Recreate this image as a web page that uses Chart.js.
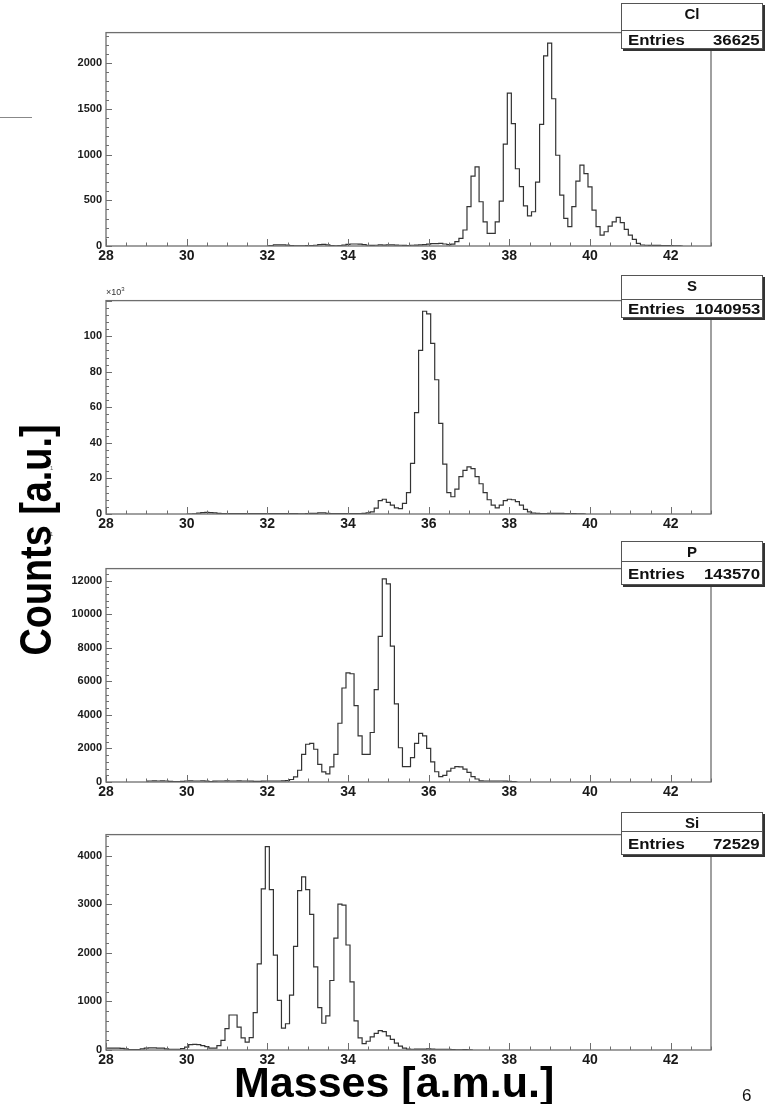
<!DOCTYPE html>
<html>
<head>
<meta charset="utf-8">
<script src="https://cdn.jsdelivr.net/npm/chart.js@4.4.1/dist/chart.umd.min.js"></script>
<style>
  body { margin: 0; background: #fff; width: 777px; height: 1104px; position: relative; overflow: hidden;
         font-family: 'Liberation Sans', Arial, sans-serif; }
  canvas { position: absolute; left: 0; }
  .stat { position: absolute; left: 621px; width: 142px; background: #fff; border: 1px solid #555;
          box-shadow: 2px 2px 0 #333; box-sizing: border-box; font-weight: bold; font-size: 15px; color: #111; z-index: 2; }
  .stat .ttl { position: absolute; left: 0; right: 0; top: 0; height: 20px; line-height: 20px; text-align: center; }
  .stat .ent { position: absolute; left: 0; right: 0; bottom: 0; border-top: 1px solid #555;
               display: flex; align-items: center; justify-content: space-between; padding: 0 2px 0 6px; }
  .stat .ent span { display: inline-block; transform: scaleX(1.12); }
  .stat .ent .k { transform-origin: left center; }
  .stat .ent .v { transform-origin: right center; }
  .big { position: absolute; font-weight: bold; white-space: nowrap; line-height: 1; color: #000; }
</style>
</head>
<body>
<div style="position:absolute;left:0;top:117px;width:32px;height:1px;background:#888"></div>

<canvas id="clChart" width="777" height="248" style="top:22px"></canvas>
<canvas id="sChart" width="777" height="248" style="top:290px"></canvas>
<canvas id="pChart" width="777" height="248" style="top:558px"></canvas>
<canvas id="siChart" width="777" height="250" style="top:824px"></canvas>

<div class="stat" style="top:3px;height:46px">
  <div class="ttl">Cl</div>
  <div class="ent" style="height:17px"><span class="k">Entries</span><span class="v">36625</span></div>
</div>
<div class="stat" style="top:275px;height:43px">
  <div class="ttl">S</div>
  <div class="ent" style="height:17px"><span class="k">Entries</span><span class="v">1040953</span></div>
</div>
<div class="stat" style="top:541px;height:44px">
  <div class="ttl">P</div>
  <div class="ent" style="height:22px"><span class="k">Entries</span><span class="v">143570</span></div>
</div>
<div class="stat" style="top:812px;height:43px">
  <div class="ttl">Si</div>
  <div class="ent" style="height:22px"><span class="k">Entries</span><span class="v">72529</span></div>
</div>

<div style="position:absolute;left:106px;top:286px;font-size:9px;color:#333">&times;10<sup style="font-size:6px">3</sup></div>
<div style="position:absolute;left:50px;top:465px;font-size:6px;color:#666">1</div>
<div style="position:absolute;left:50px;top:531px;font-size:6px;color:#666">1</div>

<div class="big" style="left:35px;top:540px;font-size:45px;transform:translate(-50%,-50%) rotate(-90deg) scale(0.84,1)">Counts [a.u.]</div>
<div class="big" style="left:234px;top:1061px;font-size:43px">Masses [a.m.u.]</div>
<div style="position:absolute;left:742px;top:1087px;font-size:17px;line-height:1;color:#111">6</div>

<script>
// bin width of all histograms (a.m.u.)
var BIN = 0.1;

// mass axis
var massMin = 28, massMax = 43;
var massTicks = [28, 30, 32, 34, 36, 38, 40, 42];

// Cl : first bin centre 32.0
var clFirstBin = 32.0;
var clCounts = [
  3, 5, 12, 12, 12, 10, 5, 3, 2, 3,
  5, 5, 8, 15, 18, 12, 5, 3, 5, 10,
  18, 22, 22, 20, 14, 8, 6, 8, 12, 10,
  12, 12, 10, 8, 6, 5, 8, 10, 12, 14,
  20, 25, 25, 28, 22, 15, 20, 47, 84, 175,
  430, 764, 865, 484, 265, 138, 138, 265, 490, 1115,
  1673, 1340, 845, 650, 440, 330, 375, 700, 1330, 2080,
  2220, 1611, 993, 556, 302, 211, 430, 709, 884, 793,
  647, 393, 211, 120, 156, 218, 265, 313, 255, 182,
  120, 73, 29, 11, 8, 6, 6, 6, 5, 5,
  4, 2, 1, 0
];
var clTicks = [0, 500, 1000, 1500, 2000];

// S : first bin centre 30.0, counts in units of 10^3
var sFirstBin = 30.0;
var sCounts = [
  0, 0, 0.1, 0.5, 0.8, 0.9, 0.8, 0.6, 0.3, 0.2,
  0.2, 0.2, 0.2, 0.2, 0.2, 0.2, 0.2, 0.2, 0.2, 0.2,
  0.2, 0.2, 0.2, 0.2, 0.2, 0.2, 0.2, 0.2, 0.1, 0.1,
  0.2, 0.3, 0.4, 0.6, 0.6, 0.4, 0.2, 0.2, 0.2, 0.2,
  0.2, 0.2, 0.2, 0.2, 0.3, 0.6, 1.2, 3.3, 7.5, 8.3,
  6.5, 5, 3.5, 3, 6, 12, 28.5, 57, 92, 114,
  112.5, 96, 75.5, 51, 28, 12, 9.7, 14, 21, 24.5,
  26.5, 25.5, 21, 17, 12, 8, 5, 3.5, 5, 7.5,
  8.3, 8, 7, 5, 2.6, 1.2, 0.5, 0.3, 0.2, 0.2,
  0.3, 0.4, 0.4, 0.3, 0.2, 0.2, 0.2, 0.1, 0.1, 0
];
var sTicks = [0, 20, 40, 60, 80, 100];

// P : first bin centre 29.0
var pFirstBin = 29.0;
var pCounts = [
  50, 60, 70, 60, 70, 60, 40, 20, 20, 40,
  60, 70, 60, 60, 70, 50, 30, 50, 60, 60,
  70, 60, 60, 70, 60, 60, 50, 40, 40, 50,
  60, 60, 60, 60, 70, 80, 150, 300, 700, 1650,
  2250, 2300, 1950, 1050, 600, 480, 900, 1650, 3500, 5600,
  6500, 6450, 4550, 2750, 1650, 1650, 2950, 5500, 8680, 12100,
  11800, 8100, 4650, 2040, 910, 910, 1450, 2300, 2900, 2750,
  2000, 1200, 610, 320, 400, 650, 820, 910, 900, 770,
  570, 320, 180, 70, 60, 60, 60, 60, 60, 50,
  40, 20, 5
];
var pTicks = [0, 2000, 4000, 6000, 8000, 10000, 12000];

// Si : first bin centre 28.0
var siFirstBin = 28.0;
var siCounts = [
  40, 40, 40, 40, 35, 25, 10, 8, 10, 25,
  40, 45, 45, 40, 40, 25, 15, 15, 15, 30,
  60, 110, 115, 110, 90, 70, 40, 40, 90, 200,
  440, 720, 720, 470, 250, 160, 253, 770, 1770, 3316,
  4184, 3300, 1950, 1020, 450, 540, 1130, 2130, 3280, 3560,
  3300, 2790, 1710, 870, 550, 700, 1430, 2300, 3000, 2980,
  2160, 1400, 600, 250, 130, 180, 270, 340, 400, 380,
  290, 220, 140, 80, 40, 20, 15, 20, 20, 20,
  25, 20, 15, 15, 15, 15, 10, 5, 3, 8,
  5, 0
];
var siTicks = [0, 1000, 2000, 3000, 4000];

var FONT = "'Liberation Sans', Arial, sans-serif";

// ROOT style frame with inner tick marks
var rootFrame = {
  id: 'rootFrame',
  afterDraw: function (chart, args, opts) {
    var ctx = chart.ctx, a = chart.chartArea;
    var x = chart.scales.x, y = chart.scales.y;
    ctx.save();
    ctx.strokeStyle = '#6e6e6e';
    ctx.lineWidth = 1.3;
    ctx.strokeRect(a.left, a.top, a.right - a.left, a.bottom - a.top);
    ctx.lineWidth = 1;
    ctx.beginPath();
    for (var v = massMin; v <= massMax + 1e-9; v += 0.5) {
      var px = Math.round(x.getPixelForValue(v)) + 0.5;
      var len = Math.abs(v % 2) < 1e-9 ? 7 : 3.5;
      ctx.moveTo(px, a.bottom);
      ctx.lineTo(px, a.bottom - len);
    }
    for (var w = 0; w <= y.max + 1e-9; w += opts.minor) {
      var py = Math.round(y.getPixelForValue(w)) + 0.5;
      var major = Math.abs(w / opts.major - Math.round(w / opts.major)) < 1e-6;
      ctx.moveTo(a.left, py);
      ctx.lineTo(a.left + (major ? 6 : 3), py);
    }
    ctx.stroke();
    ctx.restore();
  }
};

function makePanel(id, firstBin, counts, yMax, yTicks, minor, major) {
  var points = counts.map(function (c, i) {
    return { x: Math.round((firstBin + i * BIN) * 10) / 10, y: c };
  });
  var canvas = document.getElementById(id);
  return new Chart(canvas.getContext('2d'), {
    type: 'line',
    data: {
      datasets: [{
        data: points,
        stepped: 'middle',
        borderColor: '#333',
        borderWidth: 1.2,
        pointRadius: 0,
        fill: false
      }]
    },
    options: {
      responsive: false,
      animation: false,
      events: [],
      layout: { padding: { top: 10, right: 66, left: 0, bottom: 0 } },
      plugins: {
        legend: { display: false },
        tooltip: { enabled: false },
        rootFrame: { minor: minor, major: major }
      },
      scales: {
        x: {
          type: 'linear', min: massMin, max: massMax,
          grid: { display: false, drawTicks: false },
          border: { display: false },
          ticks: { color: '#1a1a1a', padding: 2, maxRotation: 0, autoSkip: false,
                   font: { family: FONT, size: 14, weight: 'bold' },
                   callback: function (v) { return String(v); } },
          afterBuildTicks: function (s) { s.ticks = massTicks.map(function (v) { return { value: v }; }); },
          afterFit: function (s) { s.height = canvas.height - 10 - 214 - (id === 'siChart' ? 2 : 0); }
        },
        y: {
          min: 0, max: yMax,
          grid: { display: false, drawTicks: false },
          border: { display: false },
          ticks: { color: '#1a1a1a', padding: 4,
                   font: { family: FONT, size: 11, weight: 'bold' },
                   callback: function (v) { return String(v); } },
          afterBuildTicks: function (s) { s.ticks = yTicks.map(function (v) { return { value: v }; }); },
          afterFit: function (s) { s.width = 106; }
        }
      }
    },
    plugins: [rootFrame]
  });
}

makePanel('clChart', clFirstBin, clCounts, 2335, clTicks, 100, 500);
makePanel('sChart', sFirstBin, sCounts, 120, sTicks, 4, 20);
makePanel('pChart', pFirstBin, pCounts, 12713, pTicks, 400, 2000);
makePanel('siChart', siFirstBin, siCounts, 4431, siTicks, 200, 1000);
</script>
</body>
</html>
